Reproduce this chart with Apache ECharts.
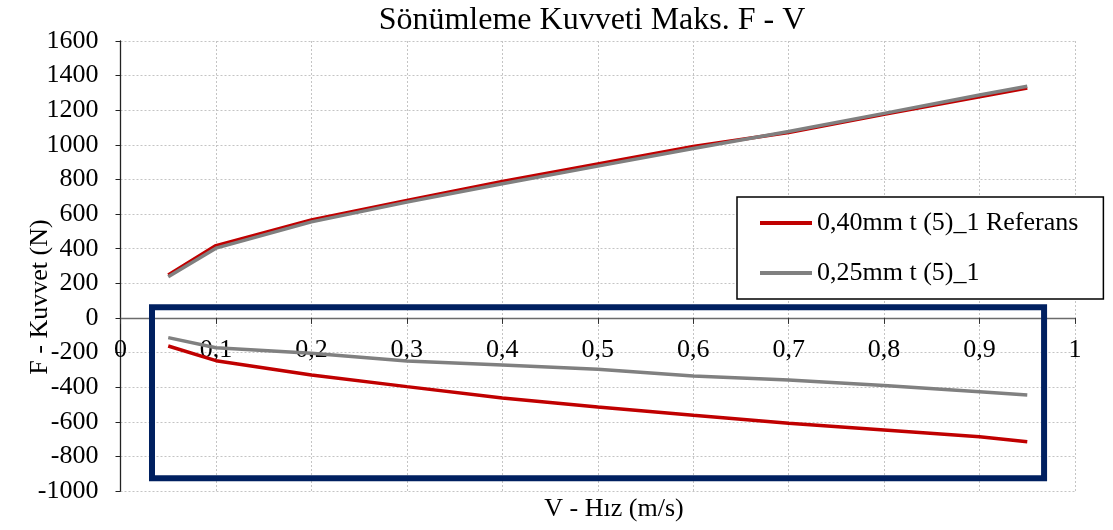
<!DOCTYPE html>
<html>
<head>
<meta charset="utf-8">
<script src="https://cdn.jsdelivr.net/npm/echarts@6/dist/echarts.min.js"></script>
<style>html,body{margin:0;padding:0;background:#fff}#c{width:1113px;height:530px}</style>
</head>
<body>
<div id="c"></div>
<script>
const titleText = 'Sönümleme Kuvveti Maks. F - V';
const xName = 'V - Hız (m/s)';
const yName = 'F - Kuvvet (N)';
const nameRed = '0,40mm t (5)_1 Referans';
const nameGray = '0,25mm t (5)_1';
const velocity = [0.05, 0.1, 0.2, 0.3, 0.4, 0.5, 0.6, 0.7, 0.8, 0.9, 0.95];
const redRebound = [248, 418, 566, 679, 788, 890, 990, 1071, 1176, 1278, 1328];
const grayRebound = [238, 403, 555, 669, 775, 877, 979, 1077, 1182, 1288, 1338];
const redCompression = [-162, -247, -330, -397, -463, -515, -563, -609, -647, -686, -715];
const grayCompression = [-114, -172, -204, -249, -272, -297, -335, -358, -391, -426, -445];
const highlightBox = { x: [0.033, 0.9676], y: [-927, 62] };
const yTicks = { min: -1000, max: 1600, interval: 200 };
const xTicks = { min: 0, max: 1, interval: 0.1 };

const pair = (xs, ys) => xs.map((x, i) => [x, ys[i]]);
const FONT = '"Liberation Serif", "Times New Roman", serif';
const RED = '#C00000', GRAY = '#808080';
const GRID = { left: 120.5, right: 38, top: 41, bottom: 39 };
const plotH = 530 - GRID.top - GRID.bottom;
// distance from the bottom of the plot to the zero line, derived from the y scale
const zeroOffset = plotH * (0 - yTicks.min) / (yTicks.max - yTicks.min);

const chart = echarts.init(document.getElementById('c'), null, { renderer: 'canvas' });
const lineSeries = (name, color, data, z) => ({
  name, type: 'line', data, symbol: 'none', smooth: false, z,
  lineStyle: { color, width: 3.5 }, itemStyle: { color }, animation: false
});
const s4 = lineSeries(nameRed, RED, pair(velocity, redCompression), 3);
s4.markArea = {
  silent: true,
  itemStyle: { color: 'rgba(0,0,0,0)', borderColor: '#002060', borderWidth: 6 },
  data: [[{ coord: [highlightBox.x[0], highlightBox.y[1]] }, { coord: [highlightBox.x[1], highlightBox.y[0]] }]]
};
chart.setOption({
  animation: false,
  backgroundColor: '#fff',
  title: {
    text: titleText, left: 587, top: 0, textAlign: 'center',
    textStyle: { fontFamily: FONT, fontSize: 32, fontWeight: 'normal', color: '#000' }
  },
  grid: Object.assign({ containLabel: false }, GRID),
  legend: {
    orient: 'vertical', left: 737, top: 197,
    data: [nameRed, nameGray],
    icon: 'rect', itemWidth: 52, itemHeight: 4, itemGap: 24,
    padding: [13, 25, 13, 23],
    borderColor: '#000', borderWidth: 1.5, backgroundColor: '#fff',
    textStyle: { fontFamily: FONT, fontSize: 26, color: '#000' }
  },
  xAxis: {
    type: 'value', min: xTicks.min, max: xTicks.max, interval: xTicks.interval,
    offset: -zeroOffset,
    axisLine: { onZero: false, lineStyle: { color: '#6b6b6b', width: 1.3 } },
    axisTick: { show: true, length: 6, lineStyle: { color: '#333' } },
    axisLabel: { margin: 19, fontFamily: FONT, fontSize: 26, color: '#000',
      formatter: v => String(Math.round(v * 10) / 10).replace('.', ',') },
    splitLine: { show: true, lineStyle: { color: '#c4c4c4', type: [2, 2], width: 1 } }
  },
  yAxis: {
    type: 'value', min: yTicks.min, max: yTicks.max, interval: yTicks.interval,
    axisLine: { show: true, onZero: false, lineStyle: { color: '#222', width: 1.3 } },
    axisTick: { show: true, length: 5, lineStyle: { color: '#222' } },
    axisLabel: { margin: 22, fontFamily: FONT, fontSize: 26, color: '#000', formatter: v => String(v) },
    splitLine: { show: true, lineStyle: { color: '#c4c4c4', type: [2, 2], width: 1 } }
  },
  graphic: [
    { type: 'text', x: 614, y: 509,
      style: { text: xName, font: '26px ' + FONT, fill: '#000', align: 'center', verticalAlign: 'middle' } },
    { type: 'text', x: 40, y: 297, rotation: Math.PI / 2,
      style: { text: yName, font: '26px ' + FONT, fill: '#000', align: 'center', verticalAlign: 'middle' } }
  ],
  series: [
    lineSeries(nameRed, RED, pair(velocity, redRebound), 2),
    lineSeries(nameGray, GRAY, pair(velocity, grayRebound), 3),
    lineSeries(nameGray, GRAY, pair(velocity, grayCompression), 2),
    s4
  ]
});
</script>
</body>
</html>
